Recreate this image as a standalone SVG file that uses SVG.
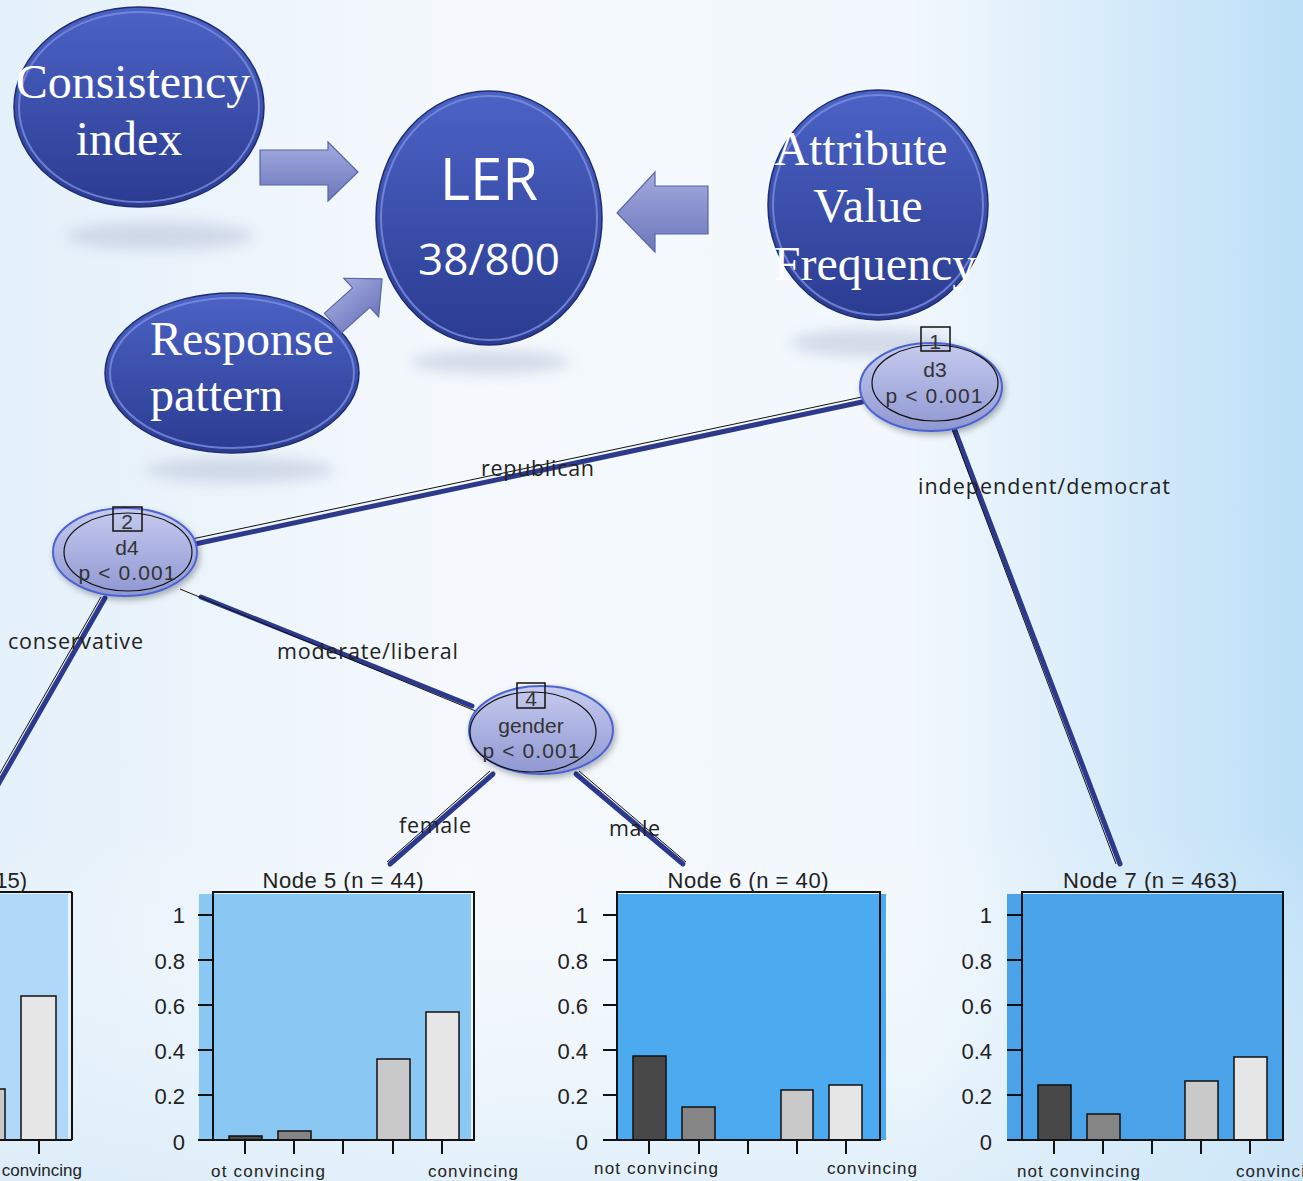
<svg xmlns="http://www.w3.org/2000/svg" width="1303" height="1181" viewBox="0 0 1303 1181">
<defs>
<linearGradient id="bg" x1="0" y1="0" x2="1" y2="0">
<stop offset="0" stop-color="#e4f0fa"/>
<stop offset="0.35" stop-color="#f5f9fd"/>
<stop offset="0.7" stop-color="#f2f8fd"/>
<stop offset="1" stop-color="#bcdff7"/>
</linearGradient>
<linearGradient id="bgv" x1="0" y1="0" x2="0" y2="1">
<stop offset="0" stop-color="#ffffff" stop-opacity="0"/>
<stop offset="0.7" stop-color="#ffffff" stop-opacity="0"/>
<stop offset="1" stop-color="#d6eaf8" stop-opacity="0.6"/>
</linearGradient>
<linearGradient id="big" x1="0" y1="0" x2="0" y2="1">
<stop offset="0" stop-color="#4c63c6"/>
<stop offset="1" stop-color="#2a3b90"/>
</linearGradient>
<linearGradient id="arr" x1="0" y1="0" x2="0" y2="1">
<stop offset="0" stop-color="#a2aade"/>
<stop offset="1" stop-color="#6d77bb"/>
</linearGradient>
<linearGradient id="tn" x1="0" y1="0" x2="0" y2="1">
<stop offset="0" stop-color="#c6cbee"/>
<stop offset="1" stop-color="#8f97d2"/>
</linearGradient>
<filter id="blur" x="-50%" y="-50%" width="200%" height="200%"><feGaussianBlur stdDeviation="7"/></filter>
<filter id="sh" x="-20%" y="-20%" width="140%" height="150%"><feDropShadow dx="2" dy="3" stdDeviation="3" flood-color="#000" flood-opacity="0.3"/></filter>
<style>
.bigE{fill:url(#big);stroke:#1f2c70;stroke-width:1.5}
.rim{fill:none;stroke:#7d8fe0;stroke-width:2;opacity:0.8}
.serif{font-family:"Liberation Serif","Times New Roman",serif;fill:#fff;font-size:48px}
.sans{font-family:"Open Sans","Noto Sans",sans-serif;fill:#fff}
.arrow{fill:url(#arr);stroke:#5b65a9;stroke-width:1.2}
.refl{fill:#b9c3d9;opacity:0.55;filter:url(#blur)}
.tnode{fill:url(#tn);stroke:#4c64d2;stroke-width:2}
.inner{fill:none;stroke:#111;stroke-width:1.2}
.nbox{fill:none;stroke:#111;stroke-width:1.5}
.nt{font-family:"Liberation Sans",Arial,sans-serif;font-size:21px;fill:#333;text-anchor:middle}
.edge{stroke:#2d3a8c;stroke-width:5;stroke-linecap:round;fill:none}
.edgeB{stroke:#111;stroke-width:1;fill:none}
.lbl{font-family:"Open Sans","Noto Sans",sans-serif;font-size:21.5px;fill:#222}
.title{font-family:"Liberation Sans",Arial,sans-serif;font-size:22px;fill:#222;text-anchor:middle}
.tick{font-family:"Liberation Sans",Arial,sans-serif;font-size:22px;fill:#222;text-anchor:end}
.xl{font-family:"Liberation Sans",Arial,sans-serif;font-size:17px;fill:#222}
.frame{fill:none;stroke:#111;stroke-width:2}
.ax{stroke:#111;stroke-width:2;fill:none}
.b1{fill:#484848;stroke:#111;stroke-width:1.5}
.b2{fill:#858585;stroke:#111;stroke-width:1.5}
.b4{fill:#c9c9c9;stroke:#111;stroke-width:1.5}
.b5{fill:#e6e6e6;stroke:#111;stroke-width:1.5}
</style>
</defs>
<rect width="1303" height="1181" fill="url(#bg)"/>
<rect width="1303" height="1181" fill="url(#bgv)"/>

<!-- reflections -->
<ellipse class="refl" cx="160" cy="236" rx="95" ry="14"/>
<ellipse class="refl" cx="490" cy="362" rx="80" ry="12"/>
<ellipse class="refl" cx="240" cy="470" rx="95" ry="13"/>
<ellipse class="refl" cx="870" cy="343" rx="80" ry="14"/>

<g id="consistency">
<ellipse class="bigE" cx="139" cy="107" rx="125" ry="100"/>
<ellipse class="rim" cx="139" cy="107" rx="120" ry="95"/>
<text class="serif" x="133" y="98" text-anchor="middle">Consistency</text>
<text class="serif" x="129" y="155" text-anchor="middle">index</text>
</g>

<g id="ler">
<ellipse class="bigE" cx="489" cy="218" rx="113" ry="127"/>
<ellipse class="rim" cx="489" cy="218" rx="108" ry="122"/>
<text class="sans" x="489" y="200" text-anchor="middle" font-size="58">LER</text>
<text class="sans" x="489" y="275" text-anchor="middle" font-size="44">38/800</text>
</g>

<g id="attribute">
<ellipse class="bigE" cx="878" cy="205" rx="110" ry="115"/>
<ellipse class="rim" cx="878" cy="205" rx="105" ry="110"/>
<text class="serif" x="861" y="165" text-anchor="middle" font-size="47">Attribute</text>
<text class="serif" x="868" y="222" text-anchor="middle" font-size="47">Value</text>
<text class="serif" x="875" y="280" text-anchor="middle" font-size="47">Frequency</text>
</g>

<g id="response">
<ellipse class="bigE" cx="232" cy="373" rx="127" ry="80"/>
<ellipse class="rim" cx="232" cy="373" rx="122" ry="75"/>
<text class="serif" x="150" y="355" font-size="47">Response</text>
<text class="serif" x="150" y="411" font-size="47">pattern</text>
</g>

<g id="arrows">
<path class="arrow" d="M260,150 L328,150 L328,142 L358,172 L328,201 L328,185 L260,185 Z"/>
<path class="arrow" d="M708,186 L655,186 L655,172 L617,213 L655,252 L655,234 L708,234 Z"/>
<path class="arrow" transform="translate(333,323) rotate(-42)" d="M0,-13 L38,-13 L38,-26 L66,0 L38,26 L38,13 L0,13 Z"/>
</g>

<g id="connectors">
<line class="edge" x1="862" y1="402" x2="195" y2="544"/>
<line class="edgeB" x1="862" y1="397" x2="192" y2="539"/>
<line class="edge" x1="954" y1="428" x2="1120" y2="864"/>
<line class="edgeB" x1="950" y1="424" x2="1116" y2="864"/>
<line class="edge" x1="105" y1="598" x2="-5" y2="790"/>
<line class="edgeB" x1="101" y1="597" x2="-8" y2="787"/>
<line class="edge" x1="201" y1="597" x2="472" y2="706"/>
<line class="edgeB" x1="180" y1="589" x2="478" y2="712"/>
<line class="edge" x1="493" y1="774" x2="390" y2="864"/>
<line class="edgeB" x1="490" y1="771" x2="387" y2="862"/>
<line class="edge" x1="576" y1="774" x2="683" y2="864"/>
<line class="edgeB" x1="579" y1="771" x2="686" y2="862"/>
<text class="lbl" x="481" y="476" textLength="113">republican</text>
<text class="lbl" x="918" y="494" textLength="252">independent/democrat</text>
<text class="lbl" x="8" y="649" textLength="135">conservative</text>
<text class="lbl" x="277" y="659" textLength="181">moderate/liberal</text>
<text class="lbl" x="399" y="833" textLength="72">female</text>
<text class="lbl" x="609" y="836" textLength="51">male</text>
</g>

<g id="node1">
<ellipse class="tnode" cx="931" cy="387" rx="71" ry="44" filter="url(#sh)"/>
<ellipse class="inner" cx="935" cy="383" rx="63" ry="38"/>
<rect class="nbox" x="921" y="327" width="29" height="24"/>
<text class="nt" x="935" y="349">1</text>
<text class="nt" x="935" y="377">d3</text>
<text class="nt" x="934" y="403" textLength="97">p &lt; 0.001</text>
</g>

<g id="node2">
<ellipse class="tnode" cx="125" cy="552" rx="72" ry="44" filter="url(#sh)"/>
<ellipse class="inner" cx="128" cy="552" rx="64" ry="39"/>
<rect class="nbox" x="113" y="507" width="29" height="24"/>
<text class="nt" x="127" y="529">2</text>
<text class="nt" x="127" y="555">d4</text>
<text class="nt" x="127" y="580" textLength="97">p &lt; 0.001</text>
</g>

<g id="node4">
<ellipse class="tnode" cx="541" cy="730" rx="72" ry="44" filter="url(#sh)"/>
<ellipse class="inner" cx="533" cy="732" rx="63" ry="40"/>
<rect class="nbox" x="517" y="683" width="28" height="25"/>
<text class="nt" x="531" y="706">4</text>
<text class="nt" x="531" y="733">gender</text>
<text class="nt" x="531" y="758" textLength="97">p &lt; 0.001</text>
</g>

<g id="node3">
<rect x="0" y="894" width="68" height="246" fill="#b0d8f8"/>
<rect class="b4" x="-10" y="1089" width="15" height="51"/>
<rect class="b5" x="21" y="996" width="35" height="144"/>
<line class="ax" x1="72" y1="892" x2="72" y2="1140"/>
<line class="ax" x1="-2" y1="892" x2="72" y2="892"/>
<line class="ax" x1="-2" y1="1140" x2="72" y2="1140"/>
<line class="ax" x1="39" y1="1140" x2="39" y2="1154"/>
<text class="title" x="27" y="888" style="text-anchor:end">15)</text>
<text class="xl" x="82" y="1176" text-anchor="end">convincing</text>
</g>

<g id="node5">
<rect x="199" y="894" width="272" height="246" fill="#8bc7f3"/>
<rect class="frame" x="213" y="892" width="261" height="248"/>
<rect class="b1" x="229" y="1136" width="33" height="4"/>
<rect class="b2" x="278" y="1131" width="33" height="9"/>
<rect class="b4" x="377" y="1059" width="33" height="81"/>
<rect class="b5" x="426" y="1012" width="33" height="128"/>
<path class="ax" d="M198,915 H213 M198,960 H213 M198,1005 H213 M198,1050 H213 M198,1095 H213 M198,1140 H474 M245,1140 V1154 M294,1140 V1154 M343,1140 V1154 M393,1140 V1154 M442,1140 V1154"/>
<text class="title" x="343" y="888" textLength="161">Node 5 (n = 44)</text>
<text class="tick" x="185" y="923">1</text>
<text class="tick" x="185" y="969">0.8</text>
<text class="tick" x="185" y="1014">0.6</text>
<text class="tick" x="185" y="1059">0.4</text>
<text class="tick" x="185" y="1104">0.2</text>
<text class="tick" x="185" y="1150">0</text>
<text class="xl" x="211" y="1177" textLength="114">ot convincing</text>
<text class="xl" x="428" y="1177" textLength="90">convincing</text>
</g>

<g id="node6">
<rect x="617" y="894" width="269" height="246" fill="#4caaf0"/>
<rect class="frame" x="617" y="892" width="263" height="248"/>
<rect class="b1" x="633" y="1056" width="33" height="84"/>
<rect class="b2" x="682" y="1107" width="33" height="33"/>
<rect class="b4" x="781" y="1090" width="32" height="50"/>
<rect class="b5" x="829" y="1085" width="33" height="55"/>
<path class="ax" d="M603,915 H617 M603,960 H617 M603,1005 H617 M603,1050 H617 M603,1095 H617 M603,1140 H880 M649,1140 V1154 M699,1140 V1154 M748,1140 V1154 M797,1140 V1154 M846,1140 V1154"/>
<text class="title" x="748" y="888" textLength="161">Node 6 (n = 40)</text>
<text class="tick" x="588" y="923">1</text>
<text class="tick" x="588" y="969">0.8</text>
<text class="tick" x="588" y="1014">0.6</text>
<text class="tick" x="588" y="1059">0.4</text>
<text class="tick" x="588" y="1104">0.2</text>
<text class="tick" x="588" y="1150">0</text>
<text class="xl" x="594" y="1174" textLength="124">not convincing</text>
<text class="xl" x="827" y="1174" textLength="90">convincing</text>
</g>

<g id="node7">
<rect x="1007" y="894" width="276" height="246" fill="#4aa2e8"/>
<rect class="frame" x="1022" y="892" width="261" height="248"/>
<rect class="b1" x="1038" y="1085" width="33" height="55"/>
<rect class="b2" x="1087" y="1114" width="33" height="26"/>
<rect class="b4" x="1185" y="1081" width="33" height="59"/>
<rect class="b5" x="1234" y="1057" width="33" height="83"/>
<path class="ax" d="M1007,915 H1022 M1007,960 H1022 M1007,1005 H1022 M1007,1050 H1022 M1007,1095 H1022 M1007,1140 H1283 M1054,1140 V1154 M1103,1140 V1154 M1152,1140 V1154 M1201,1140 V1154 M1250,1140 V1154"/>
<text class="title" x="1150" y="888" textLength="174">Node 7 (n = 463)</text>
<text class="tick" x="992" y="923">1</text>
<text class="tick" x="992" y="969">0.8</text>
<text class="tick" x="992" y="1014">0.6</text>
<text class="tick" x="992" y="1059">0.4</text>
<text class="tick" x="992" y="1104">0.2</text>
<text class="tick" x="992" y="1150">0</text>
<text class="xl" x="1017" y="1177" textLength="123">not convincing</text>
<text class="xl" x="1236" y="1177" textLength="90">convincing</text>
</g>
</svg>
